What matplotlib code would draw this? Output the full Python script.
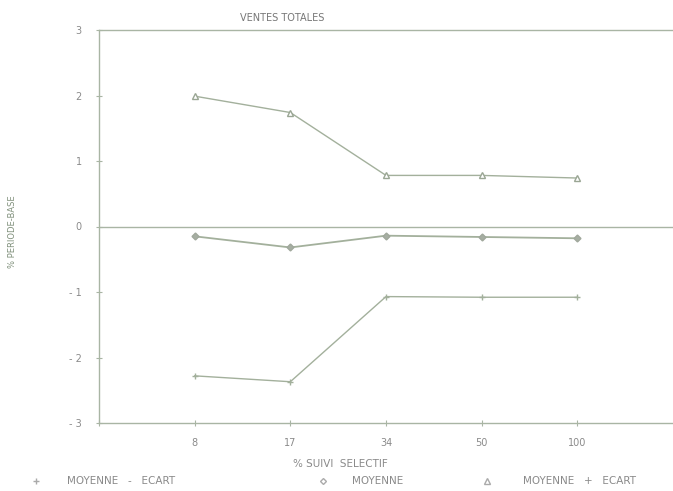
import matplotlib
matplotlib.use("Agg")
import matplotlib.pyplot as plt
from matplotlib.lines import Line2D

categories = ["8", "17", "34", "50", "100"]
moyenne_moins_ecart = [-2.28, -2.37, -1.07, -1.08, -1.08]
moyenne = [-0.15, -0.32, -0.14, -0.16, -0.18]
moyenne_plus_ecart = [1.99, 1.74, 0.78, 0.78, 0.74]
yticks = [-3, -2, -1, 0, 1, 2, 3]
ytick_labels = ["- 3", "- 2", "- 1", "0", "1", "2", "3"]
legend_labels = ["MOYENNE   -   ECART", "MOYENNE", "MOYENNE   +   ECART"]

line_c = "#a3b09c"
text_c = "#8a8a8a"
axis_c = "#a9b5a4"

W, H = 673, 491
fig = plt.figure(figsize=(W / 100, H / 100), dpi=100)
ax = fig.add_axes([99 / W, 1 - 423 / H, 574 / W, 393 / H])

xs = list(range(1, len(categories) + 1))
ax.plot(xs, moyenne_moins_ecart, color=line_c, lw=1.0, marker="+", ms=4, mew=1.0)
ax.plot(xs, moyenne, color=line_c, lw=1.3, marker="D", ms=3.5, mfc="#a6aea2", mec="#a0a89c")
ax.plot(xs, moyenne_plus_ecart, color=line_c, lw=1.0, marker="^", ms=5, mfc="white", mec="#9aa694", mew=1.0)

ax.axhline(0, color=axis_c, lw=1.0)
ax.set_xlim(0, 6)
ax.set_ylim(-3, 3)
ax.set_xticks([0] + xs)
ax.set_xticklabels([""] + categories)
ax.set_yticks(yticks)
ax.set_yticklabels(ytick_labels)
ax.tick_params(axis="both", direction="inout", length=5, width=0.8, colors=axis_c,
               labelcolor=text_c, labelsize=7)
ax.tick_params(axis="x", pad=8)
ax.tick_params(axis="y", pad=10)
for s in ["left", "top", "bottom"]:
    ax.spines[s].set_color(axis_c)
    ax.spines[s].set_linewidth(1.0)
ax.spines["right"].set_visible(False)

fig.text(282 / W, 1 - 18 / H, "VENTES TOTALES", ha="center", va="center", fontsize=7, color="#777777")
fig.text(340 / W, 1 - 464 / H, "% SUIVI  SELECTIF", ha="center", va="center", fontsize=7.5, color=text_c)
fig.text(13 / W, 1 - 232 / H, "% PERIODE-BASE", ha="center", va="center", rotation=90,
         fontsize=6, color="#7f8f7a")

# legend row
ly = 1 - 481 / H
markers = [("+", "#aaaaaa", 4), ("D", "white", 3), ("^", "white", 4)]
marker_x = [36, 323, 487]
text_x = [67, 352, 523]
for (m, fc, ms), mx, tx, lab in zip(markers, marker_x, text_x, legend_labels):
    fig.add_artist(Line2D([mx / W], [ly], transform=fig.transFigure, ls="none", marker=m,
                          ms=ms, mfc=fc, mec="#aaaaaa", color="#aaaaaa"))
    fig.text(tx / W, ly, lab, ha="left", va="center", fontsize=7.5, color=text_c)

fig.savefig("out.png", dpi=100)
